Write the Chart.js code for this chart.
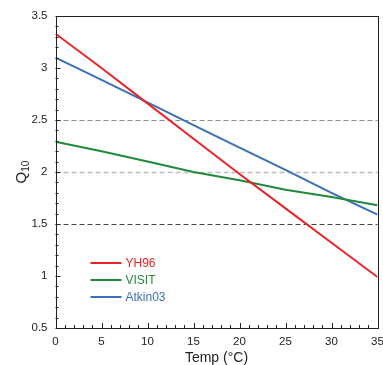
<!DOCTYPE html>
<html>
<head>
<meta charset="utf-8">
<script src="https://cdn.jsdelivr.net/npm/chart.js@4.4.0/dist/chart.umd.min.js"></script>
<style>
  html, body { margin: 0; padding: 0; background: #fff; overflow: hidden; }
  #wrap { width: 383px; height: 365px; position: relative; }
</style>
</head>
<body>
<div id="wrap"><canvas id="q10Chart"></canvas></div>
<script>
// temperatures (°C) where values were read
const temps = [0, 5, 10, 15, 20, 25, 30, 35];
const yh96 = [3.33, 3.0, 2.66, 2.32, 1.98, 1.65, 1.32, 0.99];
const visit = [2.29, 2.2, 2.1, 2.0, 1.92, 1.83, 1.76, 1.68];
const atkin03 = [3.1, 2.885, 2.67, 2.45, 2.235, 2.02, 1.8, 1.59];
const seriesNames = ["YH96", "VISIT", "Atkin03"];
const refLevels = [2.5, 2, 1.5];

const colors = ["#ec2227", "#1f8a3b", "#3a6ebf"];
const refStyles = [
  { color: "#8c8c8c", width: 1, dash: [5, 3] },
  { color: "#bdbdbd", width: 1.6, dash: [5, 3] },
  { color: "#444444", width: 1, dash: [5, 3] },
];
const fontFamily = "'Liberation Sans', Arial, sans-serif";

function toPoints(arr) {
  return temps.map((t, i) => ({ x: t, y: arr[i] }));
}

// dashed reference lines, inward ticks, frame, legend and y title
const decorPlugin = {
  id: "decor",
  beforeDatasetsDraw(chart) {
    const { ctx, chartArea, scales } = chart;
    ctx.save();
    refLevels.forEach((v, i) => {
      const y = Math.round(scales.y.getPixelForValue(v)) + 0.5;
      const st = refStyles[i];
      ctx.strokeStyle = st.color;
      ctx.lineWidth = st.width;
      ctx.setLineDash(st.dash);
      ctx.beginPath();
      ctx.moveTo(chartArea.left, y);
      ctx.lineTo(chartArea.right, y);
      ctx.stroke();
    });
    ctx.restore();
  },
  afterDatasetsDraw(chart) {
    const { ctx, chartArea, scales } = chart;
    ctx.save();
    ctx.strokeStyle = "#222";
    ctx.lineWidth = 1;
    // y ticks
    for (let k = 5; k <= 35; k++) {
      const y = Math.round(scales.y.getPixelForValue(k / 10)) + 0.5;
      const len = k % 5 === 0 ? 5 : 3;
      ctx.beginPath();
      ctx.moveTo(chartArea.left, y);
      ctx.lineTo(chartArea.left + len, y);
      ctx.stroke();
    }
    // x ticks
    for (let t = 0; t <= 35; t++) {
      const x = Math.round(scales.x.getPixelForValue(t)) + 0.5;
      const len = t % 5 === 0 ? 5 : 3;
      ctx.beginPath();
      ctx.moveTo(x, chartArea.bottom);
      ctx.lineTo(x, chartArea.bottom - len);
      ctx.stroke();
    }
    // frame
    ctx.strokeRect(
      Math.round(chartArea.left) + 0.5,
      Math.round(chartArea.top) + 0.5,
      Math.round(chartArea.right - chartArea.left),
      Math.round(chartArea.bottom - chartArea.top)
    );

    // legend
    const lx = chartArea.left + 35;
    let ly = chartArea.bottom - 65;
    ctx.font = "12px " + fontFamily;
    ctx.textBaseline = "middle";
    chart.data.datasets.forEach((ds) => {
      ctx.strokeStyle = ds.borderColor;
      ctx.lineWidth = 2;
      ctx.beginPath();
      ctx.moveTo(lx, ly);
      ctx.lineTo(lx + 31, ly);
      ctx.stroke();
      ctx.fillStyle = ds.borderColor;
      ctx.fillText(ds.label, lx + 35, ly + 0.5);
      ly += 17;
    });

    // y title: Q with subscript 10
    const cy = (chartArea.top + chartArea.bottom) / 2;
    ctx.translate(21, cy);
    ctx.rotate(-Math.PI / 2);
    ctx.fillStyle = "#222";
    ctx.textBaseline = "alphabetic";
    ctx.font = "15px " + fontFamily;
    const qw = ctx.measureText("Q").width;
    ctx.font = "10px " + fontFamily;
    const sw = ctx.measureText("10").width;
    const start = -(qw + sw) / 2;
    ctx.font = "15px " + fontFamily;
    ctx.fillText("Q", start, 5);
    ctx.font = "10px " + fontFamily;
    ctx.fillText("10", start + qw, 8);
    ctx.restore();
  },
};

document.addEventListener("DOMContentLoaded", function () {
  const ctx = document.getElementById("q10Chart");
  new Chart(ctx, {
    type: "line",
    data: {
      datasets: [yh96, visit, atkin03].map((arr, i) => ({
        label: seriesNames[i],
        data: toPoints(arr),
        borderColor: colors[i],
        backgroundColor: colors[i],
        borderWidth: 2,
        pointRadius: 0,
        fill: false,
        tension: 0,
      })),
    },
    options: {
      responsive: true,
      maintainAspectRatio: false,
      animation: false,
      layout: { padding: 0 },
      plugins: {
        legend: { display: false },
        tooltip: { enabled: false },
      },
      scales: {
        x: {
          type: "linear",
          min: 0,
          max: 35,
          grid: { display: false, drawTicks: false },
          border: { display: false },
          ticks: {
            stepSize: 5,
            padding: 7,
            color: "#222",
            font: { family: fontFamily, size: 11.5 },
          },
          title: {
            display: true,
            text: "Temp (°C)",
            color: "#222",
            font: { family: fontFamily, size: 14 },
            padding: { top: 0, bottom: -2 },
          },
          afterFit(scale) {
            scale.height = 37;
            scale.paddingRight = 5.5;
          },
        },
        y: {
          min: 0.5,
          max: 3.5,
          grid: { display: false, drawTicks: false },
          border: { display: false },
          ticks: {
            stepSize: 0.5,
            padding: 8,
            color: "#222",
            font: { family: fontFamily, size: 11.5 },
            callback: (v) => String(v),
          },
          afterFit(scale) {
            scale.width = 55.5;
            scale.paddingTop = 16;
          },
        },
      },
    },
    plugins: [decorPlugin],
  });
});
</script>
</body>
</html>
